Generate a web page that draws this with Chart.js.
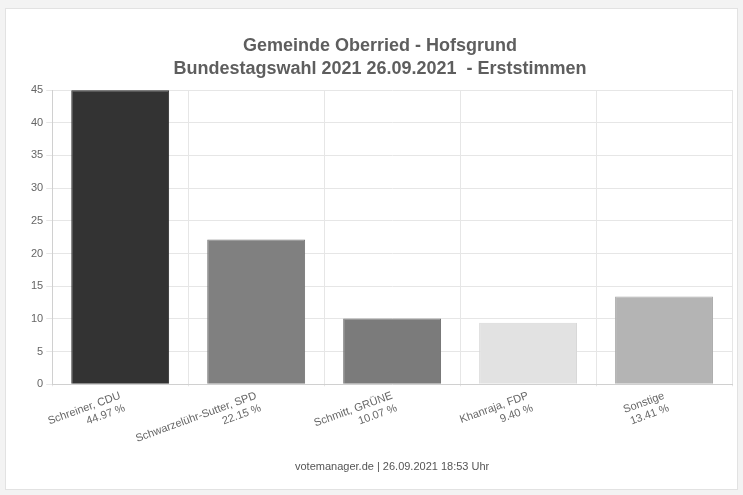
<!DOCTYPE html>
<html><head><meta charset="utf-8">
<script src="https://cdn.jsdelivr.net/npm/chart.js@4"></script>
<style>
html,body{margin:0;padding:0;background:#f3f3f3;}
#frame{position:absolute;left:5px;top:8px;width:731px;height:480px;border:1px solid #e2e2e2;background:#fff;}
canvas{display:block;}
</style></head>
<body>
<div id="frame"><canvas id="c" width="731" height="480"></canvas></div>
<script>
const candidates = ["Schreiner, CDU", "Schwarzelühr-Sutter, SPD", "Schmitt, GRÜNE", "Khanraja, FDP", "Sonstige"];
const percents = [44.97, 22.15, 10.07, 9.40, 13.41];
const barColors = ["#333333", "#808080", "#7b7b7b", "#e2e2e2", "#b4b4b4"];
const borderColors = ["#2a2a2a", "#747474", "#707070", "#d8d8d8", "#a8a8a8"];
const titleLines = ["Gemeinde Oberried - Hofsgrund", "Bundestagswahl 2021 26.09.2021  - Erststimmen"];
const footer = "votemanager.de | 26.09.2021 18:53 Uhr";

const labels = candidates.map((c, i) => [c, percents[i].toFixed(2) + " %"]);

new Chart(document.getElementById('c'), {
  type: 'bar',
  data: {
    labels: labels,
    datasets: [{
      data: percents,
      backgroundColor: barColors,
      borderColor: borderColors,
      borderWidth: 1
    }]
  },
  options: {
    responsive: false,
    animation: false,
    layout: {padding: {left: 22, right: 5, top: 12, bottom: 15}},
    plugins: {
      legend: {display: false},
      tooltip: {enabled: false},
      title: {
        display: true,
        text: titleLines,
        color: '#5e5e5e',
        font: {family: 'Liberation Sans, Arial, sans-serif', size: 18, weight: 'bold', lineHeight: 1.25},
        padding: {top: 14, bottom: 10}
      }
    },
    scales: {
      x: {
        grid: {color: '#e6e6e6', drawTicks: true, tickLength: 2},
        border: {color: '#d0d0d0'},
        ticks: {
          color: '#666',
          font: {family: 'Liberation Sans, Arial, sans-serif', size: 11},
          minRotation: 20, maxRotation: 20, autoSkip: false
        },
        title: {
          display: true,
          text: footer,
          color: '#555',
          font: {family: 'Liberation Sans, Arial, sans-serif', size: 11},
          padding: {top: 0, bottom: 0}
        }
      },
      y: {
        min: 0, max: 45,
        grid: {color: '#e6e6e6', tickLength: 6},
        border: {color: '#d0d0d0'},
        ticks: {
          stepSize: 5,
          color: '#666',
          font: {family: 'Liberation Sans, Arial, sans-serif', size: 11}
        }
      }
    }
  }
});
</script>
</body></html>
